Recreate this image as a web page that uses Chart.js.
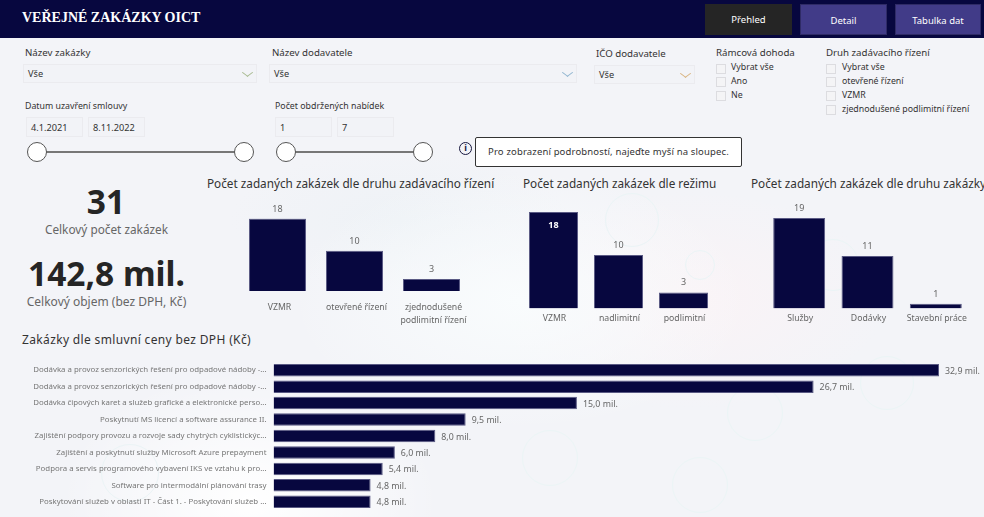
<!DOCTYPE html>
<html lang="cs">
<head>
<meta charset="utf-8">
<title>Veřejné zakázky OICT</title>
<script src="https://cdn.jsdelivr.net/npm/chart.js@4"></script>
<style>
html,body{margin:0;padding:0;width:984px;height:517px;overflow:hidden;background:#f3f4f8;font-family:"Noto Sans",sans-serif;color:#333}
#page{position:relative;width:984px;height:517px;overflow:hidden}
#page .t,#page .box,#page .chk,#page .btn,#page .knob,#page .line,#page canvas,#page .deco,#page .chev{position:absolute}
.t{white-space:nowrap}
#bg{position:absolute;inset:0;background:
  radial-gradient(ellipse 190px 130px at 250px 500px,#ffffff 0,#ffffff00 100%),
  radial-gradient(ellipse 230px 130px at 520px 300px,#f9fcfd 0,#f9fcfd00 100%),
  radial-gradient(ellipse 200px 110px at 690px 300px,#faf3f6 0,#faf3f600 100%),
  radial-gradient(ellipse 170px 70px at 400px 220px,#eef2f6 0,#eef2f600 100%)}
.deco{border:1px solid #ebf4f6;border-radius:50%;transform:translate(-50%,-50%)}
#head{position:absolute;left:0;top:0;width:984px;height:38px;background:#07073f}
.btn{height:31px;line-height:31px;text-align:center;color:#fff;font-size:9.5px;box-sizing:border-box}
.box{background:#f2f3f7;border:1px solid #ebebef;box-sizing:border-box;font-size:9.2px;color:#333;padding-left:4px}
.chk{width:8px;height:8px;border:1px solid #dcdce0;background:#f4f4f6}
.lab{font-size:9.7px;color:#333}
.opt{font-size:8.8px;color:#333}
.knob{width:20px;height:20px;border:1px solid #555;border-radius:50%;background:#fff;box-sizing:border-box}
.line{height:2px;background:#777}
.title{font-size:11.75px;color:#333}
.chev{width:6px;height:6px;border-right:1px solid;border-bottom:1px solid;transform:rotate(45deg) skew(-8deg,-8deg)}
</style>
</head>
<body>
<div id="page">
  <div id="bg"></div>
  <div class="deco" style="left:632px;top:220px;width:52px;height:52px"></div>
  <div class="deco" style="left:700px;top:265px;width:28px;height:28px"></div>
  <div class="deco" style="left:833px;top:265px;width:50px;height:50px"></div>
  <div class="deco" style="left:887px;top:383px;width:52px;height:52px"></div>
  <div class="deco" style="left:755px;top:413px;width:54px;height:54px"></div>
  <div class="deco" style="left:550px;top:458px;width:54px;height:54px"></div>
  <div class="deco" style="left:700px;top:485px;width:54px;height:54px"></div>
  <div class="deco" style="left:130px;top:473px;width:56px;height:56px"></div>
  <div id="head"></div>
  <div class="t" style="left:22px;top:10px;font:bold 14px 'Liberation Serif',serif;color:#fff">VEŘEJNÉ ZAKÁZKY OICT</div>
  <div class="btn" style="left:705px;top:4px;width:87px;background:#252525">Přehled</div>
  <div class="btn" style="left:800px;top:4px;width:87px;background:#413b88;border:1px solid #2f2b66">Detail</div>
  <div class="btn" style="left:895px;top:4px;width:86px;background:#413b88;border:1px solid #2f2b66">Tabulka dat</div>

  <div class="t lab" style="left:25px;top:46px">Název zakázky</div>
  <div class="box" style="left:23px;top:64px;width:234px;height:19px;line-height:18px">Vše</div>
  <div class="t lab" style="left:272px;top:46px">Název dodavatele</div>
  <div class="box" style="left:269px;top:64px;width:308px;height:19px;line-height:18px">Vše</div>
  <div class="t lab" style="left:596px;top:47px">IČO dodavatele</div>
  <div class="box" style="left:594px;top:65px;width:101px;height:19px;line-height:18px">Vše</div>
  <div class="chev" style="left:244px;top:69px;color:#a7b98f"></div>
  <div class="chev" style="left:564px;top:69px;color:#8fb4cf"></div>
  <div class="chev" style="left:682px;top:70px;color:#d8b27e"></div>

  <div class="t lab" style="left:716px;top:46px">Rámcová dohoda</div>
  <div class="chk" style="left:716px;top:64px"></div><div class="t opt" style="left:731px;top:61px">Vybrat vše</div>
  <div class="chk" style="left:716px;top:77px"></div><div class="t opt" style="left:731px;top:75px">Ano</div>
  <div class="chk" style="left:716px;top:91px"></div><div class="t opt" style="left:731px;top:89px">Ne</div>
  <div class="t lab" style="left:826px;top:46px">Druh zadávacího řízení</div>
  <div class="chk" style="left:826px;top:64px"></div><div class="t opt" style="left:842px;top:61px">Vybrat vše</div>
  <div class="chk" style="left:826px;top:77px"></div><div class="t opt" style="left:842px;top:75px">otevřené řízení</div>
  <div class="chk" style="left:826px;top:91px"></div><div class="t opt" style="left:842px;top:89px">VZMR</div>
  <div class="chk" style="left:826px;top:105px"></div><div class="t opt" style="left:842px;top:103px">zjednodušené podlimitní řízení</div>

  <div class="t opt" style="left:25px;top:100px">Datum uzavření smlouvy</div>
  <div class="box" style="left:26px;top:117px;width:57px;height:20px;line-height:19px">4.1.2021</div>
  <div class="box" style="left:88px;top:117px;width:57px;height:20px;line-height:19px">8.11.2022</div>
  <div class="line" style="left:38px;top:151px;width:206px"></div>
  <div class="knob" style="left:27px;top:142px"></div>
  <div class="knob" style="left:234px;top:142px"></div>
  <div class="t opt" style="left:275px;top:100px">Počet obdržených nabídek</div>
  <div class="box" style="left:275px;top:117px;width:57px;height:20px;line-height:19px">1</div>
  <div class="box" style="left:337px;top:117px;width:57px;height:20px;line-height:19px">7</div>
  <div class="line" style="left:286px;top:151px;width:137px"></div>
  <div class="knob" style="left:276px;top:142px"></div>
  <div class="knob" style="left:413px;top:142px"></div>

  <div class="t" style="left:459px;top:142px;width:13px;height:13px;border:1.5px solid #17173f;border-radius:50%;box-sizing:border-box;font:bold 9px/10px 'Noto Sans';text-align:center;color:#17173f">i</div>
  <div class="t" style="left:475px;top:137px;width:267px;height:30px;background:#fff;border:1px solid #333;border-radius:2px;box-sizing:border-box;line-height:27px;font-size:9.5px;text-align:center;letter-spacing:.15px">Pro zobrazení podrobností, najeďte myší na sloupec.</div>

  <div class="t" style="left:0;top:180px;width:212px;text-align:center;font-size:33.5px;font-weight:700;color:#252525;line-height:42px">31</div>
  <div class="t" style="left:0;top:221px;width:213px;text-align:center;font-size:11.8px;color:#666">Celkový počet zakázek</div>
  <div class="t" style="left:0;top:252px;width:213px;text-align:center;font-size:33.5px;font-weight:700;color:#252525;line-height:42px">142,8 mil.</div>
  <div class="t" style="left:0;top:293px;width:213px;text-align:center;font-size:12px;color:#666">Celkový objem (bez DPH, Kč)</div>

  <div class="t title" style="left:207px;top:175px">Počet zadaných zakázek dle druhu zadávacího řízení</div>
  <div class="t title" style="left:523px;top:175px">Počet zadaných zakázek dle režimu</div>
  <div class="t title" style="left:751px;top:175px">Počet zadaných zakázek dle druhu zakázky</div>
  <div class="t title" style="left:22px;top:331px;font-size:12px;letter-spacing:.35px">Zakázky dle smluvní ceny bez DPH (Kč)</div>

  <canvas id="chartRizeni" width="231" height="132" style="left:239px;top:198px"></canvas>
  <canvas id="chartRezim" width="195" height="140" style="left:521px;top:192px"></canvas>
  <canvas id="chartDruh" width="205" height="134" style="left:765px;top:198px"></canvas>
  <canvas id="chartCena" width="984" height="149" style="left:0;top:361px"></canvas>
</div>
<script>
const rizeniLabels = ['VZMR', 'otevřené řízení', ['zjednodušené', 'podlimitní řízení']];
const rizeniValues = [18, 10, 3];
const rezimLabels = ['VZMR', 'nadlimitní', 'podlimitní'];
const rezimValues = [18, 10, 3];
const druhLabels = ['Služby', 'Dodávky', 'Stavební práce'];
const druhValues = [19, 11, 1];
const cenaLabels = [
  'Dodávka a provoz senzorických řešení pro odpadové nádoby -...',
  'Dodávka a provoz senzorických řešení pro odpadové nádoby -...',
  'Dodávka čipových karet a služeb grafické a elektronické perso...',
  'Poskytnutí MS licencí a software assurance II.',
  'Zajištění podpory provozu a rozvoje sady chytrých cyklistickýc...',
  'Zajištění a poskytnutí služby Microsoft Azure prepayment',
  'Podpora a servis programového vybavení IKS ve vztahu k pro...',
  'Software pro intermodální plánování trasy',
  'Poskytování služeb v oblasti IT - Část 1. - Poskytování služeb ...'
];
const cenaValues = [32.9, 26.7, 15.0, 9.5, 8.0, 6.0, 5.4, 4.8, 4.8];

const BAR = '#07073f';
const EDGE = '#5a5a84';
const FONT = '"Noto Sans", sans-serif';

// value labels above / next to the bars
const barValues = {
  id: 'barValues',
  afterDatasetsDraw(chart) {
    const o = chart.options.plugins.barValues;
    const ctx = chart.ctx;
    const data = chart.data.datasets[0].data;
    ctx.save();
    chart.getDatasetMeta(0).data.forEach((bar, i) => {
      ctx.font = '9px ' + FONT;
      ctx.fillStyle = '#666';
      ctx.textBaseline = 'middle';
      if (o.horizontal) {
        ctx.textAlign = 'left';
        ctx.font = '8.8px ' + FONT;
        ctx.fillText(data[i].toFixed(1).replace('.', ',') + ' mil.', bar.x + 6, bar.y + 1);
      } else if (o.inside === i) {
        ctx.textAlign = 'center';
        ctx.font = 'bold 9px ' + FONT;
        ctx.fillStyle = '#fff';
        ctx.fillText(data[i], bar.x, bar.y + 13);
      } else {
        ctx.textAlign = 'center';
        ctx.fillText(data[i], bar.x, bar.y - 9.5);
      }
    });
    ctx.restore();
  }
};

function columnChart(id, labels, values, pct, padTop, axisH, tickPad, labelShift, inside) {
  return new Chart(document.getElementById(id), {
    type: 'bar',
    plugins: [barValues],
    data: { labels, datasets: [{
      data: values, backgroundColor: BAR, borderColor: EDGE, borderWidth: 1,
      categoryPercentage: 1, barPercentage: pct
    }]},
    options: {
      responsive: false, animation: false,
      layout: { padding: { top: padTop } },
      plugins: { legend: { display: false }, tooltip: { enabled: false }, barValues: { inside } },
      scales: {
        y: { display: false, min: 0, max: Math.max(...values) },
        x: {
          grid: { display: false, drawTicks: false }, border: { display: false },
          ticks: { padding: tickPad, labelOffset: labelShift, color: '#666', font: { family: FONT, size: 8.7, lineHeight: 1.5 }, maxRotation: 0, autoSkip: false },
          afterFit(s) { s.height = axisH; s.paddingLeft = 0; s.paddingRight = 0; }
        }
      }
    }
  });
}

columnChart('chartRizeni', rizeniLabels, rizeniValues, 0.74, 20.5, 39, 9.5, 2, -1);
columnChart('chartRezim', rezimLabels, rezimValues, 0.755, 20, 23.5, 3, 1, 0);
columnChart('chartDruh', druhLabels, druhValues, 0.76, 20, 23.5, 3, 1, -1);

new Chart(document.getElementById('chartCena'), {
  type: 'bar',
  plugins: [barValues],
  data: { labels: cenaLabels, datasets: [{
    data: cenaValues, backgroundColor: BAR, borderColor: EDGE, borderWidth: 1,
    categoryPercentage: 1, barPercentage: 0.76
  }]},
  options: {
    indexAxis: 'y', responsive: false, animation: false,
    layout: { padding: { top: 1, right: 2.5 } },
    plugins: { legend: { display: false }, tooltip: { enabled: false }, barValues: { horizontal: true } },
    scales: {
      x: { display: false, min: 0, max: 35 },
      y: {
        grid: { display: false, drawTicks: false }, border: { display: false },
        ticks: { padding: 7, color: '#777', font: { family: FONT, size: 7.85 }, autoSkip: false },
        afterFit(s) { s.width = 273.5; s.paddingTop = 0; s.paddingBottom = 0; }
      }
    }
  }
});
</script>
</body>
</html>
